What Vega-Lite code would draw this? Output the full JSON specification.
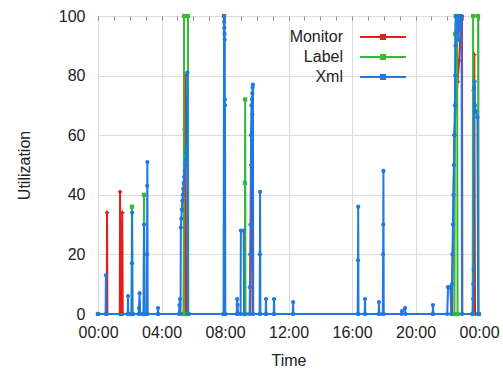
{
  "$schema": "https://vega.github.io/schema/vega-lite/v6.json",
  "width": 381,
  "height": 298,
  "padding": {"left": 16, "top": 8, "right": 5, "bottom": 5},
  "config": {
    "font": "Liberation Sans",
    "view": {"stroke": "#8a8a8a", "strokeWidth": 1},
    "axis": {
      "labelFontSize": 16, "titleFontSize": 16, "titleFontWeight": "normal",
      "labelColor": "#222", "titleColor": "#222", "gridColor": "#dcdcdc",
      "domain": false, "ticks": false, "labelFlush": false
    }
  },
  "data": {"values": [
    {"s":"Monitor","t":0,"v":0},{"s":"Monitor","t":0.55,"v":0},{"s":"Monitor","t":0.57,"v":34},{"s":"Monitor","t":0.59,"v":0},
    {"s":"Monitor","t":1.37,"v":0},{"s":"Monitor","t":1.39,"v":41},{"s":"Monitor","t":1.42,"v":0},{"s":"Monitor","t":1.46,"v":20},{"s":"Monitor","t":1.49,"v":0},{"s":"Monitor","t":1.53,"v":34},{"s":"Monitor","t":1.56,"v":0},
    {"s":"Monitor","t":5.40,"v":0},{"s":"Monitor","t":5.45,"v":62},{"s":"Monitor","t":5.50,"v":80},{"s":"Monitor","t":5.55,"v":0},
    {"s":"Monitor","t":9.60,"v":0},{"s":"Monitor","t":9.65,"v":50},{"s":"Monitor","t":9.68,"v":60},{"s":"Monitor","t":9.72,"v":67},{"s":"Monitor","t":9.76,"v":0},
    {"s":"Monitor","t":22.30,"v":0},{"s":"Monitor","t":22.45,"v":60},{"s":"Monitor","t":22.55,"v":70},{"s":"Monitor","t":22.65,"v":78},{"s":"Monitor","t":22.75,"v":85},{"s":"Monitor","t":22.85,"v":95},{"s":"Monitor","t":22.90,"v":100},{"s":"Monitor","t":22.93,"v":100},{"s":"Monitor","t":22.95,"v":0},
    {"s":"Monitor","t":23.62,"v":0},{"s":"Monitor","t":23.66,"v":75},{"s":"Monitor","t":23.70,"v":87},{"s":"Monitor","t":23.75,"v":0},{"s":"Monitor","t":24,"v":0},

    {"s":"Label","t":0,"v":0},{"s":"Label","t":2.11,"v":0},{"s":"Label","t":2.14,"v":36},{"s":"Label","t":2.17,"v":0},
    {"s":"Label","t":2.87,"v":0},{"s":"Label","t":2.90,"v":40},{"s":"Label","t":2.93,"v":0},
    {"s":"Label","t":5.40,"v":0},{"s":"Label","t":5.42,"v":100},{"s":"Label","t":5.67,"v":100},{"s":"Label","t":5.69,"v":0},
    {"s":"Label","t":7.92,"v":0},{"s":"Label","t":7.94,"v":100},{"s":"Label","t":7.97,"v":0},
    {"s":"Label","t":9.24,"v":0},{"s":"Label","t":9.26,"v":44},{"s":"Label","t":9.27,"v":72},{"s":"Label","t":9.29,"v":0},
    {"s":"Label","t":22.45,"v":0},{"s":"Label","t":22.50,"v":94},{"s":"Label","t":22.53,"v":100},{"s":"Label","t":22.62,"v":100},{"s":"Label","t":22.65,"v":0},
    {"s":"Label","t":23.60,"v":0},{"s":"Label","t":23.63,"v":100},{"s":"Label","t":23.94,"v":100},{"s":"Label","t":23.97,"v":0},{"s":"Label","t":24,"v":0},

    {"s":"Xml","t":0,"v":0},{"s":"Xml","t":0.48,"v":0},{"s":"Xml","t":0.50,"v":13},{"s":"Xml","t":0.52,"v":0},
    {"s":"Xml","t":1.87,"v":0},{"s":"Xml","t":1.89,"v":6},{"s":"Xml","t":1.91,"v":0},
    {"s":"Xml","t":2.12,"v":0},{"s":"Xml","t":2.14,"v":17},{"s":"Xml","t":2.15,"v":34},{"s":"Xml","t":2.17,"v":0},
    {"s":"Xml","t":2.56,"v":0},{"s":"Xml","t":2.58,"v":2},{"s":"Xml","t":2.62,"v":7},{"s":"Xml","t":2.66,"v":0},
    {"s":"Xml","t":2.88,"v":0},{"s":"Xml","t":2.90,"v":30},{"s":"Xml","t":2.93,"v":0},
    {"s":"Xml","t":3.07,"v":0},{"s":"Xml","t":3.09,"v":20},{"s":"Xml","t":3.10,"v":43},{"s":"Xml","t":3.11,"v":51},{"s":"Xml","t":3.13,"v":0},
    {"s":"Xml","t":3.76,"v":0},{"s":"Xml","t":3.78,"v":2},{"s":"Xml","t":3.80,"v":0},
    {"s":"Xml","t":5.10,"v":0},{"s":"Xml","t":5.13,"v":3},{"s":"Xml","t":5.17,"v":5},{"s":"Xml","t":5.20,"v":0},
    {"s":"Xml","t":5.22,"v":29},{"s":"Xml","t":5.25,"v":32},{"s":"Xml","t":5.28,"v":35},{"s":"Xml","t":5.31,"v":38},{"s":"Xml","t":5.34,"v":40},{"s":"Xml","t":5.37,"v":42},{"s":"Xml","t":5.40,"v":44},{"s":"Xml","t":5.43,"v":46},{"s":"Xml","t":5.46,"v":48},{"s":"Xml","t":5.49,"v":50},{"s":"Xml","t":5.52,"v":52},{"s":"Xml","t":5.55,"v":54},{"s":"Xml","t":5.58,"v":55},{"s":"Xml","t":5.63,"v":81},{"s":"Xml","t":5.66,"v":0},
    {"s":"Xml","t":7.92,"v":0},{"s":"Xml","t":7.94,"v":100},{"s":"Xml","t":7.95,"v":98},{"s":"Xml","t":7.96,"v":96},{"s":"Xml","t":7.97,"v":94},{"s":"Xml","t":7.98,"v":92},{"s":"Xml","t":7.99,"v":72},{"s":"Xml","t":8.00,"v":70},{"s":"Xml","t":8.02,"v":0},
    {"s":"Xml","t":8.74,"v":0},{"s":"Xml","t":8.76,"v":5},{"s":"Xml","t":8.79,"v":3},{"s":"Xml","t":8.82,"v":0},
    {"s":"Xml","t":8.98,"v":0},{"s":"Xml","t":9.00,"v":28},{"s":"Xml","t":9.18,"v":28},{"s":"Xml","t":9.20,"v":0},
    {"s":"Xml","t":9.55,"v":0},{"s":"Xml","t":9.57,"v":9},{"s":"Xml","t":9.59,"v":20},{"s":"Xml","t":9.61,"v":30},{"s":"Xml","t":9.64,"v":60},{"s":"Xml","t":9.67,"v":70},{"s":"Xml","t":9.70,"v":72},{"s":"Xml","t":9.72,"v":74},{"s":"Xml","t":9.74,"v":76},{"s":"Xml","t":9.76,"v":77},{"s":"Xml","t":9.78,"v":0},
    {"s":"Xml","t":10.18,"v":0},{"s":"Xml","t":10.20,"v":20},{"s":"Xml","t":10.21,"v":41},{"s":"Xml","t":10.23,"v":0},
    {"s":"Xml","t":10.56,"v":0},{"s":"Xml","t":10.58,"v":5},{"s":"Xml","t":10.60,"v":0},
    {"s":"Xml","t":11.07,"v":0},{"s":"Xml","t":11.09,"v":5},{"s":"Xml","t":11.11,"v":0},
    {"s":"Xml","t":12.27,"v":0},{"s":"Xml","t":12.29,"v":4},{"s":"Xml","t":12.31,"v":0},
    {"s":"Xml","t":16.36,"v":0},{"s":"Xml","t":16.38,"v":18},{"s":"Xml","t":16.39,"v":36},{"s":"Xml","t":16.41,"v":0},
    {"s":"Xml","t":16.80,"v":0},{"s":"Xml","t":16.82,"v":5},{"s":"Xml","t":16.84,"v":0},
    {"s":"Xml","t":17.68,"v":0},{"s":"Xml","t":17.70,"v":4},{"s":"Xml","t":17.72,"v":0},
    {"s":"Xml","t":17.94,"v":0},{"s":"Xml","t":17.96,"v":20},{"s":"Xml","t":17.97,"v":30},{"s":"Xml","t":17.98,"v":48},{"s":"Xml","t":18.00,"v":0},
    {"s":"Xml","t":19.13,"v":0},{"s":"Xml","t":19.15,"v":1},{"s":"Xml","t":19.34,"v":2},{"s":"Xml","t":19.37,"v":0},
    {"s":"Xml","t":21.08,"v":0},{"s":"Xml","t":21.10,"v":3},{"s":"Xml","t":21.12,"v":0},
    {"s":"Xml","t":22.00,"v":0},{"s":"Xml","t":22.05,"v":9},{"s":"Xml","t":22.20,"v":9},{"s":"Xml","t":22.25,"v":0},
    {"s":"Xml","t":22.30,"v":10},{"s":"Xml","t":22.33,"v":20},{"s":"Xml","t":22.36,"v":30},{"s":"Xml","t":22.39,"v":40},{"s":"Xml","t":22.42,"v":50},{"s":"Xml","t":22.45,"v":60},{"s":"Xml","t":22.48,"v":70},{"s":"Xml","t":22.50,"v":80},{"s":"Xml","t":22.52,"v":90},{"s":"Xml","t":22.55,"v":100},{"s":"Xml","t":22.60,"v":95},{"s":"Xml","t":22.65,"v":98},{"s":"Xml","t":22.70,"v":92},{"s":"Xml","t":22.75,"v":100},{"s":"Xml","t":22.80,"v":96},{"s":"Xml","t":22.85,"v":100},{"s":"Xml","t":22.90,"v":100},{"s":"Xml","t":22.93,"v":0},
    {"s":"Xml","t":23.60,"v":0},{"s":"Xml","t":23.63,"v":5},{"s":"Xml","t":23.65,"v":10},{"s":"Xml","t":23.67,"v":15},{"s":"Xml","t":23.69,"v":76},{"s":"Xml","t":23.72,"v":78},{"s":"Xml","t":23.75,"v":70},{"s":"Xml","t":23.80,"v":68},{"s":"Xml","t":23.90,"v":66},{"s":"Xml","t":23.95,"v":0},{"s":"Xml","t":24,"v":0}
  ]},
  "encoding": {
    "y": {"field": "v", "type": "quantitative", "scale": {"domain": [0, 100], "nice": false},
      "axis": {"values": [0, 20, 40, 60, 80, 100], "title": "Utilization", "labelPadding": 13, "titlePadding": 26, "grid": true}},
    "color": {"field": "s", "type": "nominal",
      "scale": {"domain": ["Monitor", "Label", "Xml"], "range": ["#e0201c", "#36b936", "#1f78e4"]},
      "legend": {"orient": "none", "legendX": 277, "legendY": 13, "title": null, "padding": 0,
        "symbolType": "M-5.75,0H5.75M-0.5,-0.5H0.5V0.5H-0.5Z", "symbolSize": 64, "symbolStrokeWidth": 2,
        "labelAlign": "right", "labelOffset": -48, "labelFontSize": 16, "labelColor": "#222", "rowPadding": 4,
        "encode": {"symbols": {"update": {"fill": {"scale": "color", "field": "value"}, "stroke": {"scale": "color", "field": "value"}, "strokeWidth": {"value": 2}, "opacity": {"value": 1}}}}}}
  },
  "resolve": {"axis": {"x": "independent"}},
  "layer": [
    {"transform": [{"filter": "datum.s === 'Monitor'"}], "mark": {"type": "line", "strokeWidth": 2},
     "encoding": {"x": {"field": "t", "type": "quantitative", "scale": {"domain": [0, 24], "nice": false},
       "axis": {"values": [0, 4, 8, 12, 16, 20, 24], "title": "Time", "labelPadding": 10, "titlePadding": 12, "grid": true,
         "labelExpr": "(datum.value % 24 < 10 ? '0' : '') + (datum.value % 24) + ':00'"}}}},
    {"transform": [{"filter": "datum.s === 'Monitor'"}], "mark": {"type": "point", "shape": "cross", "filled": true, "size": 18, "opacity": 1},
     "encoding": {"x": {"field": "t", "type": "quantitative",
       "axis": {"orient": "top", "offset": -4, "values": [0,1,2,3,4,5,6,7,8,9,10,11,12,13,14,15,16,17,18,19,20,21,22,23,24], "labels": false, "title": null, "grid": false, "ticks": true, "tickSize": 4, "tickColor": "#8a8a8a"}}}},
    {"transform": [{"filter": "datum.s === 'Label'"}], "mark": {"type": "line", "strokeWidth": 2},
     "encoding": {"x": {"field": "t", "type": "quantitative", "axis": null}}},
    {"transform": [{"filter": "datum.s === 'Label'"}], "mark": {"type": "point", "shape": "square", "filled": true, "size": 18, "opacity": 1},
     "encoding": {"x": {"field": "t", "type": "quantitative", "axis": null}}},
    {"transform": [{"filter": "datum.s === 'Xml'"}], "mark": {"type": "line", "strokeWidth": 2},
     "encoding": {"x": {"field": "t", "type": "quantitative", "axis": null}}},
    {"transform": [{"filter": "datum.s === 'Xml'"}], "mark": {"type": "point", "shape": "circle", "filled": true, "size": 18, "opacity": 1},
     "encoding": {"x": {"field": "t", "type": "quantitative", "axis": null}}}
  ]
}
